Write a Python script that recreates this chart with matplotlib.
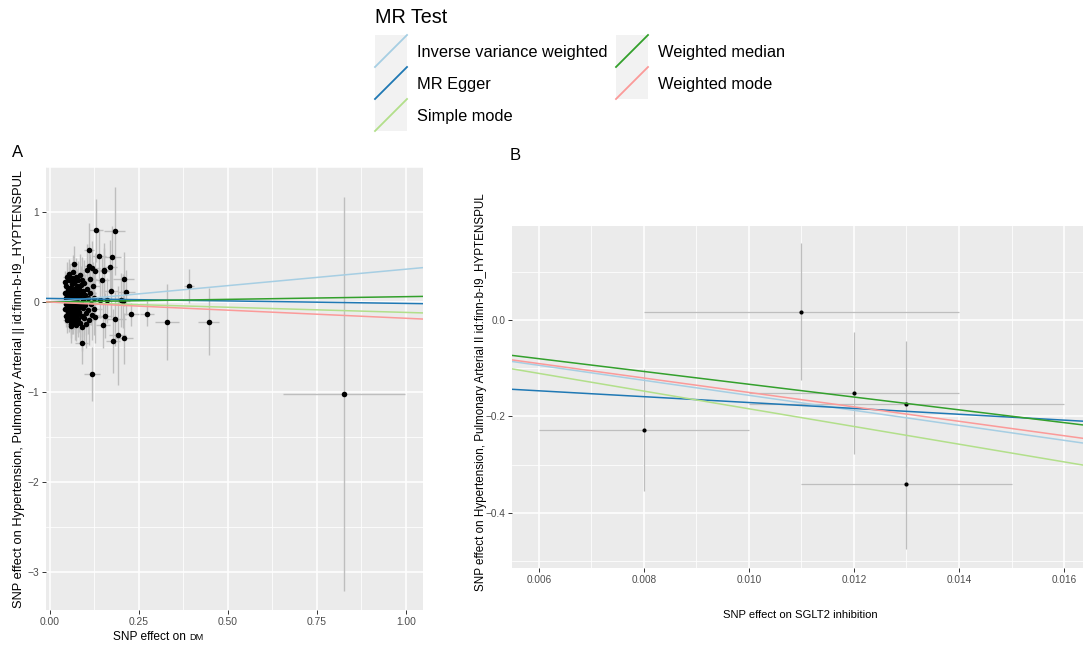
import matplotlib
matplotlib.use("Agg")
import matplotlib.pyplot as plt
import numpy as np
from matplotlib.patches import Rectangle
from matplotlib.ticker import MultipleLocator, FormatStrFormatter

plt.rcParams['font.family'] = ['Liberation Sans', 'DejaVu Sans']

# ---- data: panel A (DM) ----
# dense cluster of SNPs near the origin
clu_x = [0.042, 0.045, 0.043, 0.044, 0.046, 0.042, 0.045, 0.048, 0.047, 0.050,
         0.051, 0.049, 0.052, 0.050, 0.053, 0.054, 0.055, 0.056, 0.057, 0.055,
         0.058, 0.056, 0.059, 0.058, 0.060, 0.061, 0.062, 0.063, 0.062, 0.064,
         0.063, 0.065, 0.064, 0.066, 0.067, 0.068, 0.069, 0.068, 0.070, 0.069,
         0.071, 0.072, 0.070, 0.073, 0.074, 0.075, 0.076, 0.075, 0.077, 0.076,
         0.078, 0.079, 0.080, 0.081, 0.082, 0.081, 0.083, 0.084, 0.085, 0.086,
         0.087, 0.088, 0.089, 0.090, 0.091, 0.092, 0.093, 0.094, 0.095, 0.097,
         0.098, 0.099, 0.100, 0.102, 0.104, 0.105, 0.106, 0.108, 0.110, 0.112,
         0.113, 0.115, 0.117, 0.119, 0.121, 0.123, 0.125, 0.127,
         0.047, 0.052, 0.057, 0.061, 0.066, 0.071, 0.054, 0.060, 0.067, 0.073]
clu_y = [0.22, 0.18, 0.10, 0.04, -0.02, -0.08, -0.15, -0.20, 0.28, 0.13,
         0.07, 0.00, -0.05, -0.11, -0.17, 0.24, 0.31, 0.16, 0.09, 0.02,
         -0.03, -0.09, -0.14, -0.21, -0.24, 0.20, 0.27, 0.12, 0.05, -0.01,
         -0.07, -0.12, -0.18, 0.33, 0.42, 0.22, 0.15, 0.08, 0.01, -0.04,
         -0.10, -0.16, -0.22, -0.26, 0.28, 0.18, 0.11, 0.04, -0.02, -0.08,
         -0.13, -0.19, 0.24, 0.14, 0.06, -0.05, -0.11, -0.23, 0.30, 0.19,
         0.09, -0.01, -0.15, -0.28, 0.25, 0.12, 0.03, -0.07, -0.18, 0.21,
         0.08, -0.03, -0.12, -0.24, 0.36, 0.15, 0.04, -0.09, -0.20, 0.26,
         0.10, -0.02, -0.14, 0.38, 0.18, 0.05, -0.08, -0.17,
         0.06, -0.13, 0.26, -0.19, 0.03, 0.23, 0.14, -0.27, -0.13, 0.07]
clu_sx = [0.006, 0.008, 0.007, 0.006, 0.009, 0.007, 0.008, 0.010, 0.009, 0.007,
          0.008, 0.006, 0.010, 0.009, 0.008, 0.011, 0.010, 0.008, 0.009, 0.007,
          0.010, 0.008, 0.012, 0.009, 0.010, 0.011, 0.012, 0.009, 0.008, 0.010,
          0.011, 0.009, 0.012, 0.013, 0.012, 0.010, 0.011, 0.009, 0.012, 0.010,
          0.013, 0.011, 0.012, 0.010, 0.014, 0.012, 0.011, 0.013, 0.010, 0.012,
          0.014, 0.013, 0.015, 0.012, 0.013, 0.011, 0.014, 0.016, 0.015, 0.013,
          0.014, 0.012, 0.016, 0.015, 0.017, 0.014, 0.013, 0.015, 0.016, 0.018,
          0.015, 0.014, 0.017, 0.016, 0.019, 0.017, 0.015, 0.018, 0.020, 0.019,
          0.017, 0.016, 0.020, 0.021, 0.019, 0.018, 0.022, 0.020,
          0.007, 0.009, 0.010, 0.011, 0.012, 0.013, 0.009, 0.010, 0.012, 0.013]
clu_sy = [0.12, 0.14, 0.11, 0.13, 0.12, 0.15, 0.13, 0.14, 0.16, 0.12,
          0.14, 0.13, 0.15, 0.12, 0.16, 0.15, 0.17, 0.14, 0.13, 0.15,
          0.16, 0.14, 0.17, 0.15, 0.16, 0.17, 0.18, 0.15, 0.14, 0.16,
          0.17, 0.15, 0.18, 0.19, 0.20, 0.17, 0.16, 0.18, 0.15, 0.17,
          0.19, 0.18, 0.20, 0.17, 0.21, 0.19, 0.18, 0.20, 0.17, 0.19,
          0.21, 0.20, 0.22, 0.19, 0.21, 0.18, 0.22, 0.24, 0.23, 0.21,
          0.22, 0.20, 0.24, 0.26, 0.25, 0.22, 0.21, 0.23, 0.25, 0.26,
          0.23, 0.22, 0.25, 0.27, 0.28, 0.25, 0.23, 0.26, 0.28, 0.27,
          0.25, 0.24, 0.28, 0.30, 0.27, 0.26, 0.29, 0.28,
          0.13, 0.15, 0.16, 0.17, 0.15, 0.19, 0.14, 0.18, 0.17, 0.20]

# scattered SNPs further out
out_x = [0.130, 0.182, 0.110, 0.138, 0.174, 0.111, 0.168, 0.152, 0.207, 0.145,
         0.215, 0.171, 0.204, 0.391, 0.229, 0.273, 0.329, 0.446, 0.149, 0.183,
         0.190, 0.177, 0.208, 0.089, 0.118, 0.826, 0.126, 0.153, 0.140, 0.159,
         0.200, 0.154]
out_y = [0.80, 0.79, 0.574, 0.51, 0.50, 0.40, 0.39, 0.356, 0.26, 0.245,
         0.108, 0.122, 0.008, 0.178, -0.137, -0.129, -0.218, -0.218, -0.259, -0.185,
         -0.367, -0.433, -0.403, -0.455, -0.80, -1.02, 0.35, 0.35, 0.02, 0.02,
         0.02, -0.15]
out_sx = [0.020, 0.030, 0.015, 0.020, 0.025, 0.015, 0.020, 0.020, 0.030, 0.020,
          0.025, 0.020, 0.020, 0.013, 0.020, 0.020, 0.033, 0.030, 0.020, 0.030,
          0.025, 0.020, 0.025, 0.018, 0.022, 0.171, 0.015, 0.020, 0.015, 0.020,
          0.020, 0.020]
out_sy = [0.35, 0.49, 0.30, 0.30, 0.35, 0.25, 0.30, 0.30, 0.30, 0.25,
          0.25, 0.30, 0.30, 0.19, 0.13, 0.14, 0.42, 0.37, 0.25, 0.30,
          0.55, 0.36, 0.28, 0.23, 0.30, 2.185, 0.20, 0.25, 0.20, 0.25,
          0.30, 0.25]

# ---- data: panel B (SGLT2 inhibition) ----
b_x = [0.008, 0.011, 0.012, 0.013, 0.013]
b_y = [-0.228, 0.018, -0.152, -0.174, -0.340]
b_sx = [0.002, 0.003, 0.002, 0.003, 0.002]
b_sy = [0.126, 0.143, 0.127, 0.130, 0.135]

# ---- MR method fits (intercept, slope) ----
methods = ["Inverse variance weighted", "MR Egger", "Simple mode",
           "Weighted median", "Weighted mode"]
colors = ["#A6CEE3", "#1F78B4", "#B2DF8A", "#33A02C", "#FB9A99"]
a_intercept = [0.0, 0.040, 0.0, 0.0, 0.0]
a_slope = [0.365, -0.055, -0.115, 0.060, -0.180]
b_intercept = [0.0, -0.110, 0.0, 0.0, 0.0]
b_slope = [-15.6, -6.1, -18.4, -13.3, -15.0]

W, H = 1084, 646
fig = plt.figure(figsize=(W / 100, H / 100), dpi=100)

# overlay in pixel coords for legend and labels
ov = fig.add_axes([0, 0, 1, 1])
ov.set_xlim(0, W)
ov.set_ylim(H, 0)
ov.axis('off')


def px_axes(x0, y0, x1, y1):
    return fig.add_axes([x0 / W, 1 - y1 / H, (x1 - x0) / W, (y1 - y0) / H])


def style(ax):
    ax.set_facecolor('#EBEBEB')
    for s in ax.spines.values():
        s.set_visible(False)
    ax.set_axisbelow(True)
    ax.grid(which='major', color='white', lw=1.1)
    ax.grid(which='minor', color='white', lw=0.55)
    ax.tick_params(which='major', length=2.8, width=0.7, color='#333333',
                   labelcolor='#4D4D4D', pad=2)
    ax.tick_params(which='minor', length=0)


def draw_panel(ax, x, y, sx, sy, icpt, slope, msize, lw):
    ax.errorbar(x, y, yerr=sy, fmt='none', ecolor='#BEBEBE', elinewidth=lw,
                capsize=0, zorder=2)
    ax.errorbar(x, y, xerr=sx, fmt='none', ecolor='#BEBEBE', elinewidth=lw,
                capsize=0, zorder=2)
    ax.plot(x, y, 'o', color='black', ms=msize, mew=0, zorder=3)
    xl = ax.get_xlim()
    xs = np.array(xl)
    for a, b, c in zip(icpt, slope, colors):
        ax.plot(xs, a + b * xs, color=c, lw=1.1, zorder=4)
    ax.set_xlim(xl)


def hyphen_fmt(fmt):
    return plt.FuncFormatter(lambda v, p: (fmt % v).replace('-', '\u2212'))


# panel A
axA = px_axes(46, 167, 423, 610)
style(axA)
axA.set_xlim(-0.011, 1.048)
axA.set_ylim(-3.42, 1.5)
axA.xaxis.set_major_locator(MultipleLocator(0.25))
axA.xaxis.set_minor_locator(MultipleLocator(0.125))
axA.yaxis.set_major_locator(MultipleLocator(1))
axA.yaxis.set_minor_locator(MultipleLocator(0.5))
axA.xaxis.set_major_formatter(FormatStrFormatter('%.2f'))
axA.yaxis.set_major_formatter(hyphen_fmt('%g'))
axA.tick_params(labelsize=7.4)
draw_panel(axA, clu_x + out_x, clu_y + out_y, clu_sx + out_sx, clu_sy + out_sy,
           a_intercept, a_slope, 4.0, 1.0)

# panel B
axB = px_axes(512, 226, 1083, 568)
style(axB)
axB.set_xlim(0.00549, 0.01636)
axB.set_ylim(-0.515, 0.196)
axB.xaxis.set_major_locator(MultipleLocator(0.002))
axB.xaxis.set_minor_locator(MultipleLocator(0.001))
axB.yaxis.set_major_locator(MultipleLocator(0.2))
axB.yaxis.set_minor_locator(MultipleLocator(0.1))
axB.xaxis.set_major_formatter(FormatStrFormatter('%.3f'))
axB.yaxis.set_major_formatter(hyphen_fmt('%.1f'))
axB.tick_params(labelsize=7.2)
draw_panel(axB, b_x, b_y, b_sx, b_sy, b_intercept, b_slope, 3.0, 0.9)

# panel letters
ov.text(12, 157, "A", fontsize=12, va='baseline')
ov.text(510, 160, "B", fontsize=12, va='baseline')

# axis labels
ov.text(19, 389, "SNP effect on Hypertension, Pulmonary Arterial || id:finn-b-I9_HYPTENSPUL",
        rotation=90, fontsize=9.3, ha='center', va='center')
ov.text(113, 640, "SNP effect on", fontsize=8.6, va='baseline')
ov.text(189, 640, "DM", fontsize=6.6, va='baseline')
ov.text(481, 392, "SNP effect on Hypertension, Pulmonary Arterial II id:finn-b-I9_HYPTENSPUL",
        rotation=90, fontsize=8.4, ha='center', va='center')
ov.text(800, 615, "SNP effect on SGLT2 inhibition", fontsize=8.1, ha='center', va='center')

# legend
ov.text(375, 23, "MR Test", fontsize=14.2, va='baseline')
key_x = [375, 375, 375, 616, 616]
key_y = [35, 67, 99, 35, 67]
for m, c, kx, ky in zip(methods, colors, key_x, key_y):
    ov.add_patch(Rectangle((kx, ky), 32, 32, facecolor='#F2F2F2', edgecolor='none'))
    ov.plot([kx, kx + 32], [ky + 32, ky], color=c, lw=1.3)
    ov.text(kx + 42, ky + 22, m, fontsize=11.8, va='baseline')

fig.savefig("out.png", dpi=100)
